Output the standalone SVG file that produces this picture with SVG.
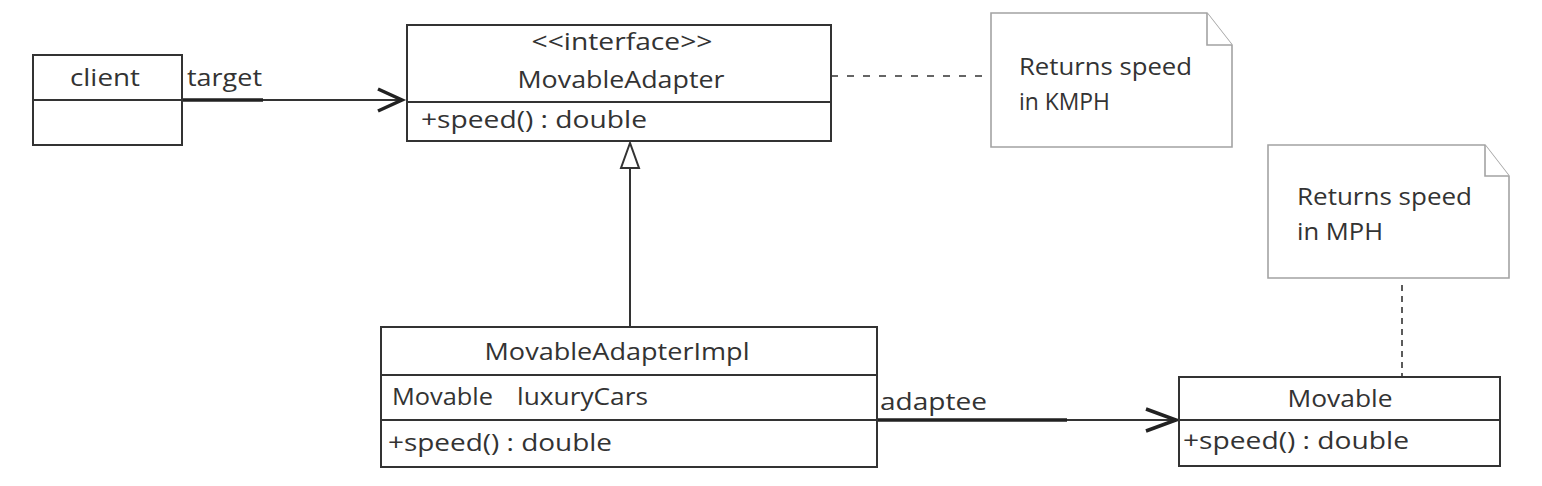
<svg xmlns="http://www.w3.org/2000/svg" width="1542" height="486" viewBox="0 0 1542 486">
<style>
.box{fill:#fff;stroke:#333;stroke-width:2}
.div{stroke:#333;stroke-width:2}
.note{fill:#fff;stroke:#a3a3a3;stroke-width:1.6}
.t{font-family:"Open Sans","Liberation Sans",sans-serif;font-size:24px;fill:#333}
.c{text-anchor:middle}
.ln{stroke:#333;stroke-width:2;fill:none}
.thick{stroke:#222;stroke-width:3.5;fill:none}
.head{stroke:#222;stroke-width:3.5;fill:none;stroke-linejoin:miter}
.dash{stroke:#333;stroke-width:1.6;fill:none}
</style>
<rect width="1542" height="486" fill="#fff"/>
<g id="connectors">
  <line class="ln" x1="182" y1="100" x2="402" y2="100"/>
  <line class="thick" x1="182" y1="100" x2="263" y2="100"/>
  <polyline class="head" points="378,89 402,100 378,111"/>
  <line class="ln" x1="877" y1="420" x2="1176" y2="420"/>
  <line class="thick" x1="877" y1="420" x2="1067" y2="420"/>
  <polyline class="head" points="1146,409 1176,420 1146,431"/>
  <line class="ln" x1="630" y1="168" x2="630" y2="327"/>
  <path d="M630,143 L621,168 L639,168 Z" fill="#fff" stroke="#333" stroke-width="2"/>
  <line class="dash" x1="831" y1="76" x2="991" y2="76" stroke-dasharray="7 9"/>
  <line class="dash" x1="1402" y1="285" x2="1402" y2="377" stroke-dasharray="6 5"/>
  <text class="t" x="187" y="86" textLength="75" lengthAdjust="spacingAndGlyphs">target</text>
  <text class="t" x="880" y="410" textLength="107" lengthAdjust="spacingAndGlyphs">adaptee</text>
</g>
<g id="client">
  <rect class="box" x="33" y="55" width="149" height="90"/>
  <line class="div" x1="33" y1="100" x2="182" y2="100"/>
  <text class="t c" x="105" y="86" textLength="70" lengthAdjust="spacingAndGlyphs">client</text>
</g>
<g id="MovableAdapter">
  <rect class="box" x="407" y="25" width="424" height="116"/>
  <line class="div" x1="407" y1="102" x2="831" y2="102"/>
  <text class="t c" x="622" y="50" textLength="181" lengthAdjust="spacingAndGlyphs">&lt;&lt;interface&gt;&gt;</text>
  <text class="t c" x="621" y="88" textLength="207" lengthAdjust="spacingAndGlyphs">MovableAdapter</text>
  <text class="t" x="421" y="128" textLength="226" lengthAdjust="spacingAndGlyphs">+speed() : double</text>
</g>
<g id="noteKMPH">
  <path class="note" d="M991,13 L1207,13 L1232,45 L1232,147 L991,147 Z"/>
  <path class="note" d="M1207,13 L1207,45 L1232,45" fill="none"/>
  <text class="t" x="1019" y="75" textLength="173" lengthAdjust="spacingAndGlyphs">Returns speed</text>
  <text class="t" x="1019" y="110" textLength="91" lengthAdjust="spacingAndGlyphs">in KMPH</text>
</g>
<g id="MovableAdapterImpl">
  <rect class="box" x="381" y="327" width="496" height="140"/>
  <line class="div" x1="381" y1="375" x2="877" y2="375"/>
  <line class="div" x1="381" y1="420" x2="877" y2="420"/>
  <text class="t c" x="617" y="360" textLength="265" lengthAdjust="spacingAndGlyphs">MovableAdapterImpl</text>
  <text class="t" x="392" y="405" textLength="101" lengthAdjust="spacingAndGlyphs">Movable</text>
  <text class="t" x="517" y="405" textLength="131" lengthAdjust="spacingAndGlyphs">luxuryCars</text>
  <text class="t" x="388" y="451" textLength="224" lengthAdjust="spacingAndGlyphs">+speed() : double</text>
</g>
<g id="Movable">
  <rect class="box" x="1179" y="377" width="321" height="89"/>
  <line class="div" x1="1179" y1="420" x2="1500" y2="420"/>
  <text class="t c" x="1340" y="407" textLength="105" lengthAdjust="spacingAndGlyphs">Movable</text>
  <text class="t" x="1183" y="449" textLength="226" lengthAdjust="spacingAndGlyphs">+speed() : double</text>
</g>
<g id="noteMPH">
  <path class="note" d="M1268,145 L1485,145 L1509,176 L1509,278 L1268,278 Z"/>
  <path class="note" d="M1485,145 L1485,176 L1509,176" fill="none"/>
  <text class="t" x="1297" y="205" textLength="175" lengthAdjust="spacingAndGlyphs">Returns speed</text>
  <text class="t" x="1297" y="240" textLength="86" lengthAdjust="spacingAndGlyphs">in MPH</text>
</g>
</svg>
